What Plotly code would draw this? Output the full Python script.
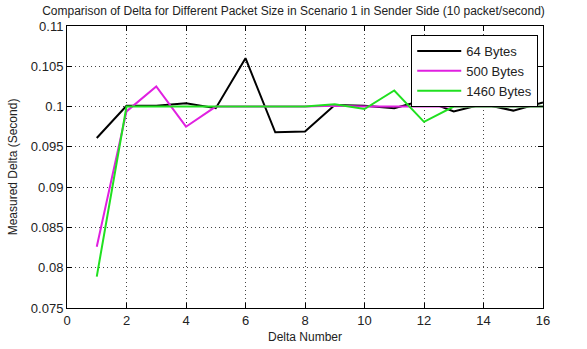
import plotly.graph_objects as go

delta_number = list(range(1, 17))
bytes_64 = [0.0961, 0.1001, 0.1001, 0.1004, 0.0998, 0.1060, 0.0968, 0.0969,
            0.1002, 0.1001, 0.0998, 0.1008, 0.0994, 0.1003, 0.0995, 0.1005]
bytes_500 = [0.0826, 0.0994, 0.1025, 0.0975, 0.1000, 0.1000, 0.1000, 0.1000,
             0.1001, 0.1000, 0.1000, 0.1000, 0.1000, 0.1000, 0.1000, 0.1000]
bytes_1460 = [0.0789, 0.1000, 0.1000, 0.1000, 0.1000, 0.1000, 0.1000, 0.1000,
              0.1003, 0.0997, 0.1020, 0.0981, 0.1000, 0.1000, 0.1000, 0.1000]

series_names = ["64 Bytes", "500 Bytes", "1460 Bytes"]
series_colors = ["#000000", "#e020e0", "#20e020"]

y_ticks = [0.075, 0.08, 0.085, 0.09, 0.095, 0.1, 0.105, 0.11]
y_tick_text = ["0.075", "0.08", "0.085", "0.09", "0.095", "0.1", "0.105", "0.11"]
x_ticks = [0, 2, 4, 6, 8, 10, 12, 14, 16]

fig = go.Figure()
for name, vals, col in zip(series_names, [bytes_64, bytes_500, bytes_1460], series_colors):
    fig.add_trace(go.Scatter(x=delta_number, y=vals, mode="lines", name=name,
                             line=dict(color=col, width=2)))

font = "Liberation Sans, Arial, sans-serif"
fig.update_layout(
    width=587, height=349,
    margin=dict(l=67, r=44, t=26, b=41, autoexpand=False),
    paper_bgcolor="white", plot_bgcolor="white",
    font=dict(family=font, size=12, color="#222"),
    title=dict(text="Comparison of Delta for Different Packet Size in Scenario 1 in Sender Side (10 packet/second)",
               x=0.5, xanchor="center", y=0.97, yanchor="middle",
               font=dict(size=12, family=font, color="#222")),
    legend=dict(x=0.99, y=0.968, xanchor="right", yanchor="top",
                bgcolor="white", bordercolor="black", borderwidth=1,
                font=dict(size=13, family=font, color="#222"),
                itemwidth=44, tracegroupgap=0),
    showlegend=True,
)
fig.update_xaxes(
    range=[0, 16], tickvals=x_ticks, showline=True, linecolor="black", linewidth=1,
    mirror="ticks", ticks="inside", ticklen=5, tickcolor="black",
    showgrid=True, gridcolor="#444", griddash="1px,3px", gridwidth=1,
    zeroline=False, automargin=False,
    title=dict(text="Delta Number", standoff=6, font=dict(size=12)),
    tickfont=dict(size=13),
)
fig.update_yaxes(
    range=[0.075, 0.11], tickvals=y_ticks, ticktext=y_tick_text,
    showline=True, linecolor="black", linewidth=1,
    mirror="ticks", ticks="inside", ticklen=5, tickcolor="black",
    showgrid=True, gridcolor="#444", griddash="1px,3px", gridwidth=1,
    zeroline=False, automargin=False,
    title=dict(text="Measured Delta (Second)", standoff=10, font=dict(size=12)),
    tickfont=dict(size=13),
)

fig.write_html("out.html", config={"displayModeBar": False},
               post_script="document.body.style.margin='0';")
